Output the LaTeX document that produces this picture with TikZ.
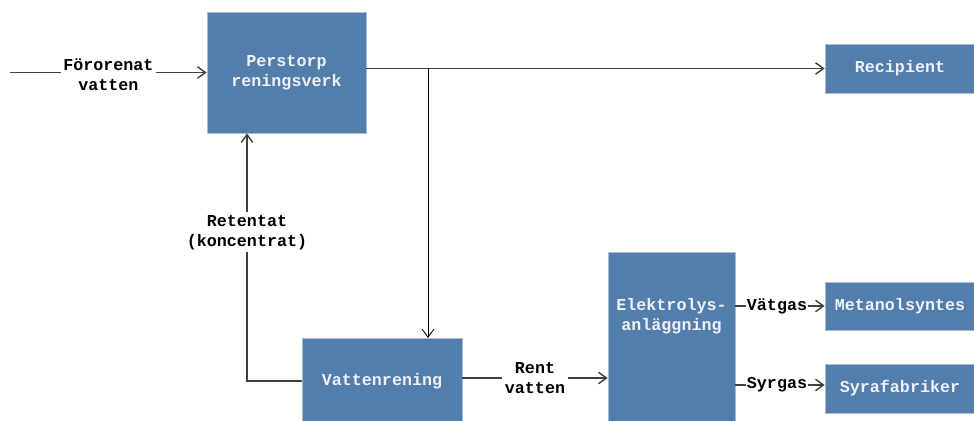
\documentclass[tikz,border=0pt]{standalone}
\usepackage{fontspec}
\setmonofont{Liberation Mono}
\usetikzlibrary{positioning,calc,arrows.meta}
\definecolor{boxblue}{RGB}{83,125,170}
\definecolor{boxedge}{RGB}{165,190,215}
\definecolor{boxtxt}{RGB}{238,242,247}
\definecolor{linegray}{RGB}{64,64,64}
\tikzset{
  box/.style={fill=boxblue, draw=boxedge, line width=0.4pt, text=boxtxt, align=center,
    font=\ttfamily\bfseries\fontsize{9.5}{11.3}\selectfont, inner sep=0pt},
  lbl/.style={fill=white, inner sep=1.5pt, align=center,
    font=\ttfamily\bfseries\fontsize{9.5}{11.3}\selectfont},
  flow/.style={->, draw=linegray, line width=0.8pt}
}

\begin{document}
\begin{tikzpicture}[x=0.02cm, y=-0.02cm, >={Straight Barb[length=4.5pt,width=6.5pt]}]
\useasboundingbox (0,0) rectangle (974,421);
\clip (0,0) rectangle (974,421);
% blocks
\node[box, minimum width=3.18cm, minimum height=2.42cm] (P) at (286.5,72.5) {Perstorp\\reningsverk};
\node[box, minimum width=3.0cm, minimum height=0.98cm] (R) at (900,68.5) {Recipient};
\node[box, minimum width=3.2cm, minimum height=1.7cm, anchor=north] (V) at (382,338) {Vattenrening};
\node[box, minimum width=2.54cm, minimum height=3.6cm, anchor=north] (E) at (671.5,252) {};
\node[box, fill=none, draw=none] (Etxt) at (671.5,316) {Elektrolys-\\anläggning};
\node[box, minimum width=3.0cm, minimum height=0.96cm] (M) at (900,306) {Metanolsyntes};
\node[box, minimum width=3.0cm, minimum height=0.98cm] (S) at (900,388.5) {Syrafabriker};
\coordinate (src) at (10,72.5);
\coordinate (split) at (428,68.5);
% flows
\draw[flow] (src) -- node[lbl, yshift=-0.04cm]{Förorenat\\vatten} (P);
\draw[flow] (P.east |- R.west) -- (R.west);
\draw[->, line width=0.5pt] (split) -- (split |- V.north);
\draw[flow] (V.west) -| node[lbl, pos=0.8]{Retentat\\(koncentrat)} ($(P.south)+(-39.5,0)$);
\draw[flow] (V.east |- 0,378) -- node[lbl]{Rent\\vatten} (E.west |- 0,378);
\draw[flow] (E.east |- M.west) -- node[lbl, inner sep=0.8pt, xshift=-0.06cm]{Vätgas} (M.west);
\draw[flow] (E.east |- 0,385) -- node[lbl, inner sep=0.8pt, xshift=-0.06cm]{Syrgas} (S.west |- 0,385);
\end{tikzpicture}
\end{document}
